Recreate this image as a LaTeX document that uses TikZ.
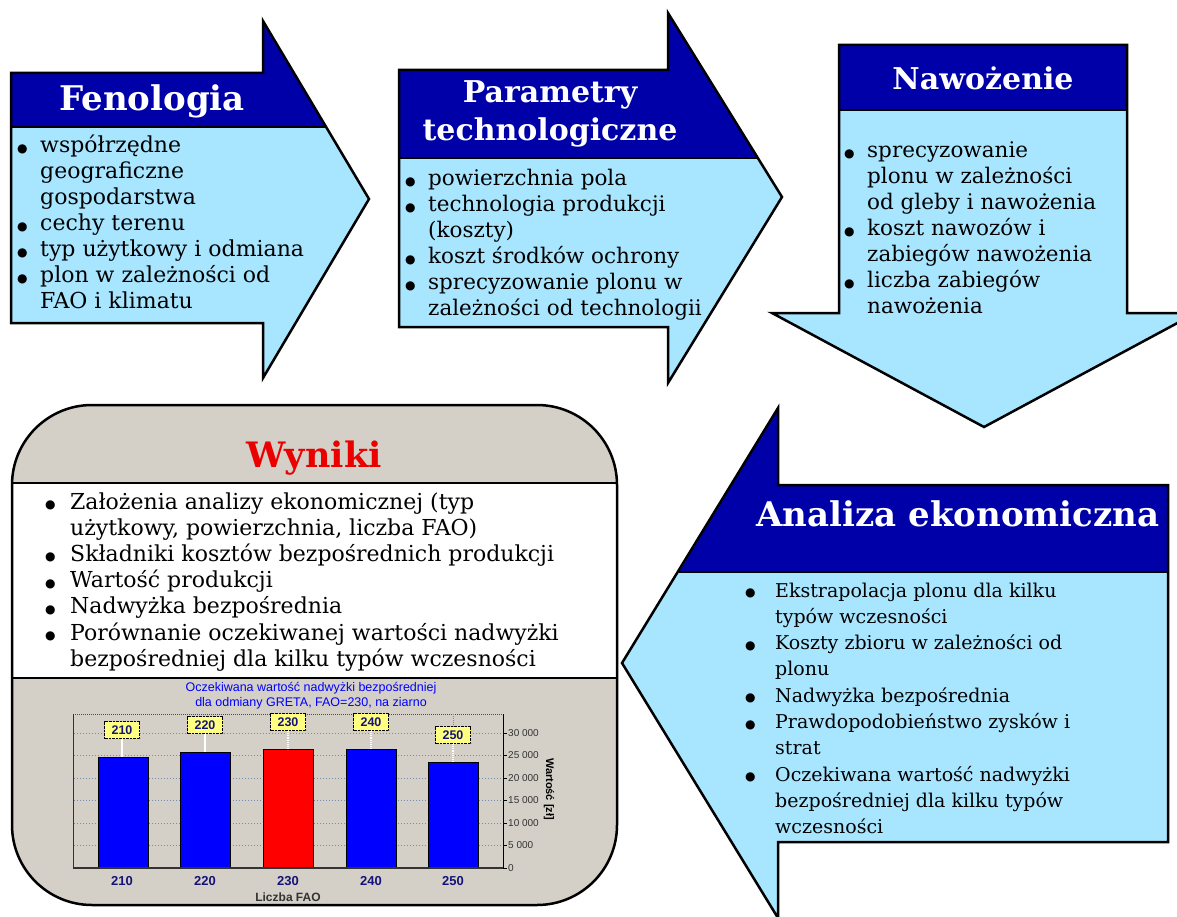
\documentclass[tikz,border=0pt]{standalone}
\usepackage{fontspec}
\setmainfont{DejaVu Serif}
\setsansfont{Liberation Sans}
\newfontfamily\symf{DejaVu Sans}
\definecolor{lb}{RGB}{168,230,255}
\definecolor{db}{RGB}{0,0,168}
\definecolor{wgray}{RGB}{212,208,200}
\definecolor{wred}{RGB}{235,0,0}
\definecolor{lab}{RGB}{255,255,128}
\definecolor{gridc}{RGB}{110,140,180}
\definecolor{cblue}{RGB}{0,0,255}
\definecolor{ctext}{RGB}{20,20,120}
\newlength\bw
\newcommand\bl{\makebox[\bw][l]{\raisebox{0.5pt}{\symf\fontsize{12}{12}\selectfont ●}}}
\begin{document}
\begin{tikzpicture}[x=1pt,y=-1pt,
  outl/.style={draw=black,line width=2.5pt,line join=miter},
  sepline/.style={draw=black,line width=2.5pt},
  hdr/.style={font=\fontsize{30}{38}\selectfont\bfseries, text=white, align=center, inner sep=0pt},
  blist/.style={anchor=base west, inner sep=0pt},
  bar/.style={draw=black, line width=0.8pt},
  tag/.style={draw=black, densely dotted, fill=lab, inner sep=0pt, minimum width=35pt, minimum height=17pt, font=\sffamily\bfseries\fontsize{12.5}{12.5}\selectfont, text=ctext},
  xl/.style={font=\sffamily\bfseries\fontsize{13}{13}\selectfont, text=ctext},
  yl/.style={font=\sffamily\fontsize{10}{10}\selectfont, text=black!80, anchor=west, inner sep=0pt},
  gridl/.style={draw=gridc, dotted, line width=1pt},
]
\useasboundingbox (0,0) rectangle (1177,917);

% ---------- Arrow 1: Fenologia ----------
\fill[lb] (11,73) -- (263,73) -- (263,21) -- (369,199) -- (263,378) -- (263,323) -- (11,323) -- cycle;
\fill[db] (11,127) -- (11,73) -- (263,73) -- (263,21) -- (326,127) -- cycle;
\draw[sepline] (11,127) -- (326,127);
\draw[outl] (11,73) -- (263,73) -- (263,21) -- (369,199) -- (263,378) -- (263,323) -- (11,323) -- cycle;
\node[hdr, font=\fontsize{34}{38}\selectfont\bfseries] (t1) at (152,101) {Fenologia};
\node[blist] (b1) at (17,153) {\fontsize{22}{26}\selectfont\setlength\bw{23pt}%
\begin{tabular}[t]{@{}l@{}l@{}}
\bl & współrzędne\\
 & geograficzne\\
 & gospodarstwa\\
\bl & cechy terenu\\
\bl & typ użytkowy i odmiana\\
\bl & plon w zależności od\\
 & FAO i klimatu
\end{tabular}};

% ---------- Arrow 2: Parametry ----------
\fill[lb] (399,70) -- (668,70) -- (668,13) -- (782,197) -- (668,383) -- (668,327) -- (399,327) -- cycle;
\fill[db] (399,158) -- (399,70) -- (668,70) -- (668,13) -- (758,158) -- cycle;
\draw[sepline] (399,158) -- (758,158);
\draw[outl] (399,70) -- (668,70) -- (668,13) -- (782,197) -- (668,383) -- (668,327) -- (399,327) -- cycle;
\node[hdr] (t2) at (550,114) {Parametry\\technologiczne};
\node[blist] (b2) at (405,186) {\fontsize{21.5}{26}\selectfont\setlength\bw{23pt}%
\begin{tabular}[t]{@{}l@{}l@{}}
\bl & powierzchnia pola\\
\bl & technologia produkcji\\
 & (koszty)\\
\bl & koszt środków ochrony\\
\bl & sprecyzowanie plonu w\\
 & zależności od technologii
\end{tabular}};

% ---------- Arrow 3: Nawożenie ----------
\fill[lb] (839,45) -- (1127,45) -- (1127,313) -- (1196,313) -- (984,427) -- (772,313) -- (839,313) -- cycle;
\fill[db] (839,45) rectangle (1127,110);
\draw[sepline] (839,110) -- (1127,110);
\draw[outl] (839,45) -- (1127,45) -- (1127,313) -- (1196,313) -- (984,427) -- (772,313) -- (839,313) -- cycle;
\node[hdr] (t3) at (983,78) {Nawożenie};
\node[blist] (b3) at (844,158) {\fontsize{21.5}{26}\selectfont\setlength\bw{23pt}%
\begin{tabular}[t]{@{}l@{}l@{}}
\bl & sprecyzowanie\\
 & plonu w zależności\\
 & od gleby i nawożenia\\
\bl & koszt nawozów i\\
 & zabiegów nawożenia\\
\bl & liczba zabiegów\\
 & nawożenia
\end{tabular}};

% ---------- Arrow 4: Analiza ekonomiczna ----------
\fill[lb] (1168,485) -- (778,485) -- (778,408) -- (622,663) -- (778,918) -- (778,842) -- (1168,842) -- cycle;
\fill[db] (679,572) -- (778,408) -- (778,485) -- (1168,485) -- (1168,572) -- cycle;
\draw[sepline] (679,572) -- (1168,572);
\draw[outl] (1168,485) -- (778,485) -- (778,408) -- (622,663) -- (778,918) -- (778,842) -- (1168,842) -- cycle;
\node[hdr, font=\fontsize{34}{38}\selectfont\bfseries] (t4) at (958,514) {Analiza ekonomiczna};
\node[blist] (b4) at (745,597) {\fontsize{19}{26.3}\selectfont\setlength\bw{30pt}%
\begin{tabular}[t]{@{}l@{}l@{}}
\bl & Ekstrapolacja plonu dla kilku\\
 & typów wczesności\\
\bl & Koszty zbioru w zależności od\\
 & plonu\\
\bl & Nadwyżka bezpośrednia\\
\bl & Prawdopodobieństwo zysków i\\
 & strat\\
\bl & Oczekiwana wartość nadwyżki\\
 & bezpośredniej dla kilku typów\\
 & wczesności
\end{tabular}};

% ---------- Wyniki ----------
\fill[wgray, rounded corners=80pt] (12,405) rectangle (617,905);
\fill[white] (12,483) rectangle (617,678);
\node[font=\fontsize{35}{40}\selectfont\bfseries, text=wred, inner sep=0pt] (t5) at (314,458) {Wyniki};
\node[blist] (b5) at (45,509) {\fontsize{22}{26.2}\selectfont\setlength\bw{25pt}%
\begin{tabular}[t]{@{}l@{}l@{}}
\bl & Założenia analizy ekonomicznej (typ\\
 & użytkowy, powierzchnia, liczba FAO)\\
\bl & Składniki kosztów bezpośrednich produkcji\\
\bl & Wartość produkcji\\
\bl & Nadwyżka bezpośrednia\\
\bl & Porównanie oczekiwanej wartości nadwyżki\\
 & bezpośredniej dla kilku typów wczesności
\end{tabular}};

% chart
\node[font=\sffamily\fontsize{12.5}{15}\selectfont, text=cblue, align=center, inner sep=0pt] (ct) at (311,696) {Oczekiwana wartość nadwyżki bezpośredniej\\dla odmiany GRETA, FAO=230, na ziarno};
\foreach \yy in {733,755.5,778,800.5,823,845.5}{
  \draw[gridl] (74,\yy) -- (507,\yy);
}
\draw[black!70, densely dotted, line width=1pt] (73,714) -- (503,714);
\draw[black!80, line width=1pt] (73,714) -- (73,868);
% bars
\draw[bar, fill=blue] (98,868) rectangle (148,757);
\draw[bar, fill=blue] (180,868) rectangle (230,752);
\draw[bar, fill=red] (263,868) rectangle (313,749);
\draw[bar, fill=blue] (346,868) rectangle (396,749);
\draw[bar, fill=blue] (428,868) rectangle (478,762);
% axes
\draw[black!80, line width=1.5pt] (73,868) -- (503,868);
\draw[black, line width=1pt] (503,714) -- (503,868);
\foreach \yy in {733,755.5,778,800.5,823,845.5,868}{
  \draw[black, line width=0.8pt] (503,\yy) -- (507,\yy);
}
% tags
\node[tag] (g1) at (122,730) {210};
\node[tag] (g2) at (205,725) {220};
\node[tag] (g3) at (288,722) {230};
\node[tag] (g4) at (371,722) {240};
\node[tag] (g5) at (453,735) {250};
\coordinate (p1) at (122,757);
\coordinate (p2) at (205,752);
\coordinate (p3) at (288,749);
\coordinate (p4) at (371,749);
\coordinate (p5) at (453,762);
\coordinate (q5) at (453,714);
\draw[white, line width=1.2pt] (g1.south) -- (p1);
\draw[white, line width=1.2pt] (g2.south) -- (p2);
\draw[white, densely dotted, line width=1.2pt] (g3.south) -- (p3);
\draw[white, densely dotted, line width=1.2pt] (g4.south) -- (p4);
\draw[white, densely dotted, line width=1.2pt] (g5.south) -- (p5);
\draw[gridc, densely dotted, line width=1pt] (q5) -- (g5.north);
% y labels
\node[yl] (y30) at (508,733) {30 000};
\node[yl] (y25) at (508,755.5) {25 000};
\node[yl] (y20) at (508,778) {20 000};
\node[yl] (y15) at (508,800.5) {15 000};
\node[yl] (y10) at (508,823) {10 000};
\node[yl] (y5) at (508,845.5) {5 000};
\node[yl] (y0) at (508,868) {0};
\node[font=\sffamily\bfseries\fontsize{11}{11}\selectfont, rotate=-90, inner sep=0pt] (yt) at (549,789) {Wartość [zł]};
% x labels
\node[xl] (x1) at (122,881) {210};
\node[xl] (x2) at (205,881) {220};
\node[xl] (x3) at (288,881) {230};
\node[xl] (x4) at (371,881) {240};
\node[xl] (x5) at (453,881) {250};
\node[font=\sffamily\bfseries\fontsize{12}{12}\selectfont, text=black!80] (xt) at (288,897) {Liczba FAO};

% Wyniki lines and outline
\draw[sepline] (12,483) -- (617,483);
\draw[sepline] (12,678) -- (617,678);
\draw[outl, rounded corners=80pt] (12,405) rectangle (617,905);
\end{tikzpicture}
\end{document}
